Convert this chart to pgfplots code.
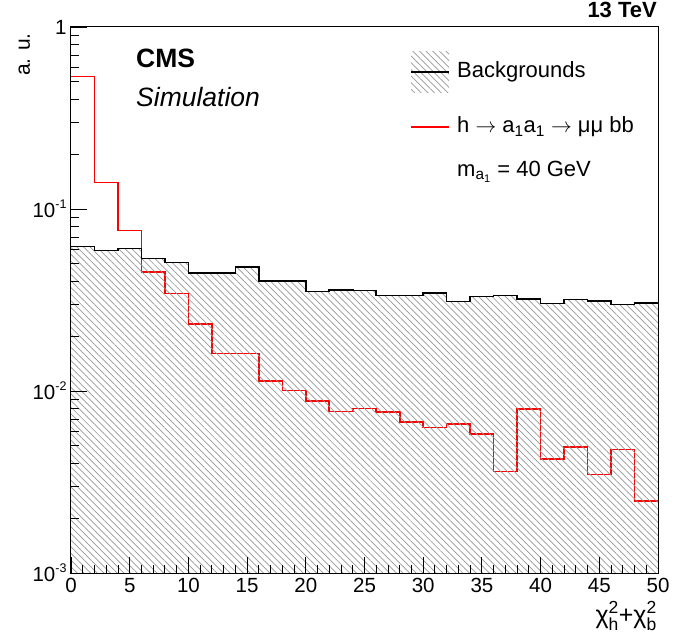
\documentclass[border=0pt]{standalone}
\usepackage{pgfplots}
\pgfplotsset{compat=1.18}
\usepackage{pgfplotstable}
\usepackage{amsmath}
\usepackage{fontspec}
\setmainfont{Liberation Sans}
\usetikzlibrary{patterns.meta}

\definecolor{hatch}{RGB}{150,150,150}
\definecolor{sigred}{RGB}{255,0,0}

% bin left edges, last row repeats the final bin to close the step
\pgfplotstableread{
x   sig      bkg
0   0.535    0.0623
2   0.140    0.0592
4   0.0763   0.0608
6   0.0452   0.0535
8   0.0343   0.0509
10  0.0233   0.0445
12  0.0161   0.0445
14  0.0161   0.0480
16  0.01135  0.0402
18  0.01007  0.0402
20  0.00881  0.0353
22  0.00770  0.0358
24  0.00802  0.0356
26  0.00767  0.0334
28  0.00678  0.0334
30  0.00631  0.0345
32  0.00661  0.0310
34  0.00580  0.0331
36  0.00362  0.0334
38  0.00796  0.0320
40  0.00423  0.0302
42  0.00492  0.0318
44  0.00347  0.0313
46  0.00476  0.0299
48  0.00249  0.0304
50  0.00249  0.0304
}\histtab

\tikzset{hatchfill/.style={pattern={Lines[angle=-45,distance=4.7pt,line width=0.7pt]}, pattern color=hatch}}
\newcommand\pw[1]{10\raisebox{0.42em}{\fontsize{12.5}{13}\selectfont -#1}}

\begin{document}
\begin{tikzpicture}
\useasboundingbox (-71pt,-69pt) rectangle (621pt,573pt);
\begin{axis}[
    name=ax, anchor=south west, at={(0pt,0pt)},
    scale only axis, width=587pt, height=546pt,
    ymode=log,
    xmin=0, xmax=50, ymin=1e-3, ymax=1,
    xtick={0,5,...,50}, minor x tick num=4,
    ytick={0.001,0.01,0.1,1},
    minor ytick={0.002,0.003,0.004,0.005,0.006,0.007,0.008,0.009,
                 0.02,0.03,0.04,0.05,0.06,0.07,0.08,0.09,
                 0.2,0.3,0.4,0.5,0.6,0.7,0.8,0.9},
    yticklabels={\pw{3},\pw{2},\pw{1},1},
    xtick pos=bottom, ytick pos=left,
    tick align=inside,
    major tick length=16pt, minor tick length=8pt,
    every tick/.style={black, line width=0.9pt},
    axis line style={line width=1pt},
    axis on top,
    ticklabel style={font=\fontsize{20.5}{24}\selectfont},
    /pgf/number format/assume math mode=true,
    xticklabel style={yshift=-2pt},
    yticklabel style={xshift=-1pt},
]
\addplot[const plot, sigred, line width=1.6pt] table[x=x, y=sig] {\histtab};
\addplot[const plot, draw=none, hatchfill] table[x=x, y=bkg] {\histtab}
    -- (axis cs:50,0.001) -- (axis cs:0,0.001) -- cycle;
\addplot[const plot, black, line width=1.6pt] table[x=x, y=bkg] {\histtab};
\end{axis}

% legend
\fill[hatchfill] (340pt,480.3pt) rectangle (378pt,521.3pt);
\draw[black, line width=1.2pt] (340pt,501pt) -- (378pt,501pt);
\draw[sigred, line width=1.6pt] (340pt,445.7pt) -- (378pt,445.7pt);
\begin{scope}[every node/.style={inner sep=0pt, font=\fontsize{22}{26}\selectfont}]
\node[anchor=base west] at (386pt,495pt) {Backgrounds};
\node[anchor=base west] at (386pt,440pt) {h $\rightarrow$ a$_{\text{1}}$a$_{\text{1}}$ $\rightarrow$ μμ bb};
\node[anchor=base west] at (386pt,396.5pt) {m$_{\text{a}_{\text{1}}}$ = 40 GeV};
\end{scope}

% labels
\node[anchor=base west, inner sep=0pt, font=\fontsize{26.5}{30}\selectfont\bfseries] at (65pt,505pt) {CMS};
\node[anchor=base west, inner sep=0pt, font=\fontsize{26.5}{30}\selectfont\itshape] at (65pt,466pt) {Simulation};
\node[anchor=base east, inner sep=0pt, font=\fontsize{22}{26}\selectfont\bfseries] at (586pt,555pt) {13 TeV};
\node[anchor=base east, inner sep=0pt, font=\fontsize{25}{28}\selectfont] at (586pt,-50pt)
    {χ$^{\text{2}}_{\text{h}}$+χ$^{\text{2}}_{\text{b}}$};
\node[anchor=base east, rotate=90, inner sep=0pt, font=\fontsize{21}{24}\selectfont] at (-41pt,540pt) {a. u.};
\end{tikzpicture}
\end{document}
